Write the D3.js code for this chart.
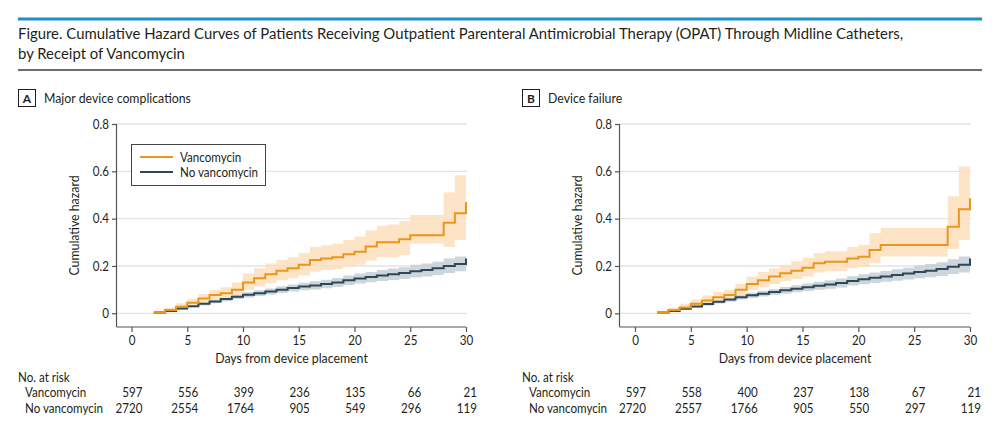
<!DOCTYPE html>
<html>
<head>
<meta charset="utf-8">
<script src="https://cdn.jsdelivr.net/npm/d3@7"></script>
<style>
  body { margin: 0; background: #fff; }
  svg { display: block; font-family: Lato, "Open Sans", sans-serif; }
</style>
</head>
<body>
<svg id="chart" width="1000" height="430"></svg>
<script>
// Data
// step start days 2..29, last entry is the value reached at day 30
const days = d3.range(2, 31);

const aVanco      = [0.004,0.014,0.028,0.045,0.063,0.077,0.085,0.10,0.13,0.148,0.165,0.18,0.19,0.205,0.225,0.232,0.237,0.25,0.26,0.282,0.30,0.30,0.313,0.33,0.33,0.33,0.383,0.423,0.47];
const aVancoHi    = [0.01,0.025,0.042,0.062,0.082,0.098,0.11,0.13,0.168,0.19,0.21,0.225,0.237,0.255,0.28,0.288,0.294,0.31,0.325,0.35,0.37,0.375,0.39,0.415,0.415,0.415,0.51,0.583,0.583];
const aVancoLo    = [0.0,0.007,0.017,0.03,0.045,0.057,0.063,0.077,0.1,0.113,0.127,0.14,0.148,0.16,0.177,0.183,0.187,0.197,0.205,0.222,0.237,0.237,0.245,0.295,0.295,0.295,0.28,0.31,0.31];
const aNoVanco    = [0.003,0.01,0.02,0.03,0.04,0.05,0.06,0.07,0.078,0.085,0.092,0.1,0.107,0.113,0.118,0.124,0.13,0.14,0.147,0.153,0.16,0.165,0.17,0.178,0.183,0.19,0.2,0.208,0.232];
const aNoVancoHi  = [0.006,0.014,0.025,0.036,0.047,0.058,0.069,0.08,0.089,0.097,0.105,0.114,0.122,0.129,0.135,0.142,0.149,0.16,0.168,0.175,0.183,0.189,0.195,0.205,0.21,0.218,0.232,0.24,0.24];
const aNoVancoLo  = [0.001,0.006,0.015,0.024,0.033,0.042,0.051,0.06,0.067,0.073,0.079,0.086,0.092,0.097,0.101,0.106,0.111,0.12,0.126,0.131,0.137,0.141,0.145,0.151,0.156,0.162,0.17,0.178,0.178];

const bVanco      = [0.004,0.014,0.025,0.04,0.054,0.068,0.077,0.099,0.124,0.14,0.155,0.169,0.18,0.193,0.211,0.218,0.218,0.232,0.239,0.268,0.289,0.289,0.289,0.289,0.289,0.289,0.366,0.44,0.486];
const bVancoHi    = [0.01,0.025,0.04,0.058,0.075,0.09,0.1,0.125,0.155,0.175,0.19,0.205,0.22,0.235,0.255,0.262,0.262,0.28,0.29,0.338,0.362,0.362,0.362,0.362,0.362,0.362,0.495,0.62,0.62];
const bVancoLo    = [0.0,0.007,0.015,0.026,0.037,0.05,0.057,0.076,0.097,0.11,0.123,0.135,0.145,0.156,0.172,0.178,0.178,0.19,0.196,0.212,0.24,0.24,0.24,0.24,0.24,0.24,0.272,0.31,0.31];
const bNoVanco    = [0.003,0.01,0.019,0.029,0.039,0.049,0.058,0.068,0.076,0.083,0.09,0.097,0.104,0.11,0.116,0.122,0.128,0.137,0.144,0.15,0.156,0.162,0.168,0.175,0.18,0.187,0.197,0.205,0.232];
const bNoVancoHi  = [0.006,0.014,0.024,0.035,0.046,0.057,0.067,0.078,0.087,0.095,0.103,0.111,0.119,0.126,0.133,0.14,0.147,0.157,0.165,0.172,0.179,0.186,0.193,0.202,0.208,0.216,0.228,0.24,0.24];
const bNoVancoLo  = [0.001,0.006,0.014,0.023,0.032,0.041,0.049,0.058,0.065,0.071,0.077,0.083,0.089,0.094,0.099,0.104,0.109,0.117,0.123,0.128,0.133,0.138,0.143,0.148,0.152,0.158,0.166,0.172,0.172];

const xTicks = [0, 5, 10, 15, 20, 25, 30];
const yTicks = [0, 0.2, 0.4, 0.6, 0.8];
const yTickLabels = ['0', '0.2', '0.4', '0.6', '0.8'];

const groups = ['Vancomycin', 'No vancomycin'];
const aRiskVanco   = [597, 556, 399, 236, 135, 66, 21];
const aRiskNoVanco = [2720, 2554, 1764, 905, 549, 296, 119];
const bRiskVanco   = [597, 558, 400, 237, 138, 67, 21];
const bRiskNoVanco = [2720, 2557, 1766, 905, 550, 297, 119];

const titleLines = [
  'Figure. Cumulative Hazard Curves of Patients Receiving Outpatient Parenteral Antimicrobial Therapy (OPAT) Through Midline Catheters,',
  'by Receipt of Vancomycin'
];

// Colors
const orange = '#EB961A', orangeBand = '#FDDFBC';
const slate = '#2D4858', slateBand = '#C4CFD5';
const textColor = '#231f20';
// the journal font is condensed; squeeze Lato a bit
const sx = 0.88;

const svg = d3.select('#chart');

function label(parent, x, y, str, size, anchor, rotate) {
  return parent.append('text')
    .attr('transform', `translate(${x},${y})` + (rotate ? ` rotate(${rotate})` : '') + ` scale(${sx},1)`)
    .attr('text-anchor', anchor || 'start')
    .attr('font-size', size).attr('fill', textColor)
    .text(str);
}

// Header
svg.append('rect').attr('x', 18).attr('y', 17.5).attr('width', 964).attr('height', 3).attr('fill', '#1B92C5');
titleLines.forEach((t, i) => {
  svg.append('text')
    .attr('x', 18).attr('y', 39 + i * 20)
    .attr('font-size', 14.9).attr('fill', textColor)
    .text(t);
});
svg.append('rect').attr('x', 18).attr('y', 69).attr('width', 964).attr('height', 2).attr('fill', '#6d6e70');

function panel(opt) {
  const g = svg.append('g');
  const x = d3.scaleLinear().domain([0, 30]).range([opt.x0, opt.x1]);
  const y = d3.scaleLinear().domain([0, 0.8]).range([313.3, 124]);
  const axisLeft = opt.axisX;
  const axisBottom = 327;

  // panel label
  g.append('rect').attr('x', opt.labelX + 0.5).attr('y', 89.5).attr('width', 17).attr('height', 17)
    .attr('fill', 'none').attr('stroke', textColor).attr('stroke-width', 1);
  g.append('text').attr('x', opt.labelX + 9).attr('y', 102.5).attr('text-anchor', 'middle')
    .attr('font-size', 12).attr('font-weight', 'bold').attr('fill', textColor).text(opt.letter);
  label(g, opt.labelX + 26, 102.5, opt.label, 14);

  // grid
  g.selectAll('.grid').data(yTicks).join('line')
    .attr('x1', axisLeft).attr('x2', x(30) + 1)
    .attr('y1', d => y(d)).attr('y2', d => y(d))
    .attr('stroke', '#e3e3e3').attr('stroke-width', 1.3);

  // axes
  const yAxis = d3.axisLeft(y).tickValues(yTicks).tickFormat((d, i) => yTickLabels[i]).tickSize(5).tickPadding(3);
  const ya = g.append('g').attr('transform', `translate(${axisLeft},0)`).call(yAxis);
  ya.select('.domain').attr('d', `M-0.5,${y(0.8)}V${axisBottom}`);
  const xAxis = d3.axisBottom(x).tickValues(xTicks).tickSize(5).tickPadding(4);
  const xa = g.append('g').attr('transform', `translate(0,${axisBottom})`).call(xAxis);
  xa.select('.domain').attr('d', `M${axisLeft - 0.5},0H${x(30)}`);
  [ya, xa].forEach(a => {
    a.selectAll('.domain, .tick line').attr('stroke', '#555').attr('stroke-width', 1.2);
    a.selectAll('text').attr('font-size', 13.2).attr('fill', textColor)
      .attr('font-family', 'Lato, sans-serif').attr('transform', `scale(${sx},1)`);
  });
  ya.selectAll('text').attr('x', -8 / sx);

  label(g, axisLeft - 38, (y(0.8) + axisBottom) / 2, 'Cumulative hazard', 14, 'middle', -90);
  label(g, (axisLeft + x(30)) / 2, 363, 'Days from device placement', 14, 'middle');

  // curves
  const area = d3.area().curve(d3.curveStepAfter)
    .x((d, i) => x(days[i])).y0(d => y(d[0])).y1(d => y(d[1]));
  const line = d3.line().curve(d3.curveStepAfter)
    .x((d, i) => x(days[i])).y(d => y(d));

  const series = [
    {v: opt.no, lo: opt.noLo, hi: opt.noHi, c: slate, band: slateBand},
    {v: opt.vanco, lo: opt.vancoLo, hi: opt.vancoHi, c: orange, band: orangeBand}
  ];
  series.forEach(s => {
    g.append('path').datum(s.lo.map((l, i) => [l, s.hi[i]]))
      .attr('d', area).attr('fill', s.band).attr('fill-opacity', 0.85);
  });
  series.forEach(s => {
    g.append('path').datum(s.v).attr('d', line)
      .attr('fill', 'none').attr('stroke', s.c).attr('stroke-width', 2);
  });

  // risk table
  label(g, opt.labelX, 382, 'No. at risk', 13.2);
  [opt.riskV, opt.riskN].forEach((row, r) => {
    label(g, opt.labelX + 7, 397 + r * 16, groups[r], 13.2);
    row.forEach((d, i) => label(g, x(xTicks[i]) + 11, 397 + r * 16, d, 13.2, 'end'));
  });
  return g;
}

const gA = panel({
  letter: 'A', label: 'Major device complications', labelX: 18,
  axisX: 117, x0: 131.5, x1: 466,
  vanco: aVanco, vancoLo: aVancoLo, vancoHi: aVancoHi,
  no: aNoVanco, noLo: aNoVancoLo, noHi: aNoVancoHi,
  riskV: aRiskVanco, riskN: aRiskNoVanco
});
panel({
  letter: 'B', label: 'Device failure', labelX: 522,
  axisX: 620, x0: 635, x1: 970,
  vanco: bVanco, vancoLo: bVancoLo, vancoHi: bVancoHi,
  no: bNoVanco, noLo: bNoVancoLo, noHi: bNoVancoHi,
  riskV: bRiskVanco, riskN: bRiskNoVanco
});

// legend (panel A)
const legend = gA.append('g');
legend.append('rect').attr('x', 131.5).attr('y', 144.5).attr('width', 134).attr('height', 41)
  .attr('fill', '#fff').attr('stroke', '#444').attr('stroke-width', 1);
[orange, slate].forEach((c, i) => {
  legend.append('line').attr('x1', 140).attr('x2', 173).attr('y1', 157 + i * 15).attr('y2', 157 + i * 15)
    .attr('stroke', c).attr('stroke-width', 2);
  label(legend, 180, 161.5 + i * 15, groups[i], 13.2);
});
</script>
</body>
</html>
